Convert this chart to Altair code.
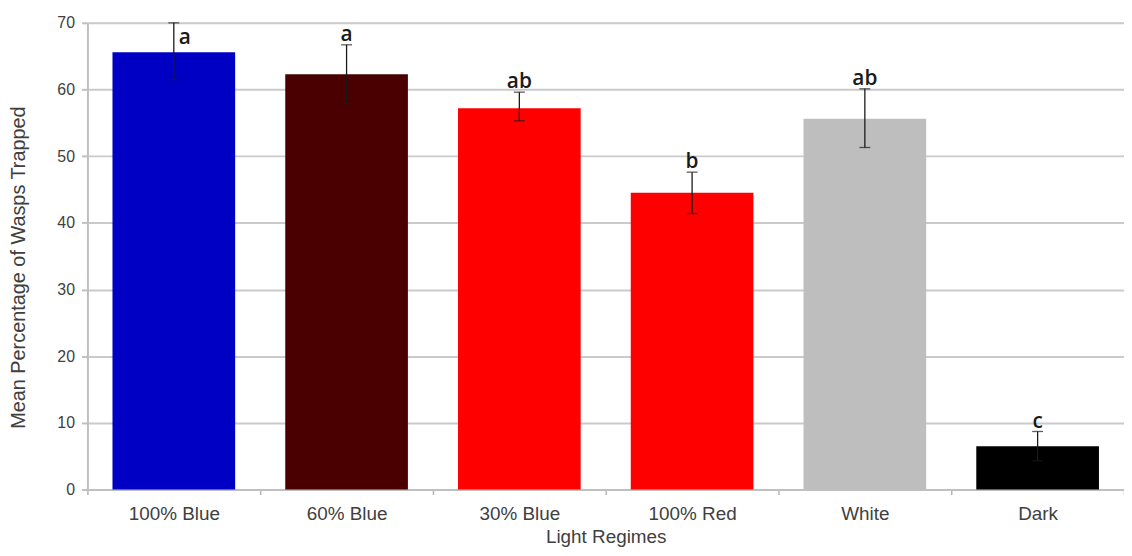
import altair as alt
import pandas as pd

categories = ["100% Blue", "60% Blue", "30% Blue", "100% Red", "White", "Dark"]
means = [65.6, 62.3, 57.2, 44.5, 55.6, 6.5]
upper = [70.0, 66.7, 59.6, 47.6, 60.1, 8.7]
lower = [61.5, 57.9, 55.3, 41.4, 51.3, 4.3]
letters = ["a", "a", "ab", "b", "ab", "c"]
colors = ["#0000c4", "#4a0000", "#ff0000", "#ff0000", "#bebebe", "#000000"]

df = pd.DataFrame({
    "regime": categories,
    "mean": means,
    "upper": upper,
    "lower": lower,
    "letter": letters,
    "color": colors,
})

FONT = "Liberation Sans"

x = alt.X(
    "regime:N",
    sort=categories,
    scale=alt.Scale(paddingInner=0, paddingOuter=0),
    axis=alt.Axis(
        title="Light Regimes",
        labelAngle=0,
        labelFontSize=19,
        labelColor="#404040",
        labelFont=FONT,
        labelPadding=10,
        titleFont=FONT,
        titleFontSize=19,
        titleFontWeight="normal",
        titleColor="#404040",
        titlePadding=4,
        tickBand="extent",
        tickSize=5,
        tickColor="#b4b4b4",
        tickWidth=1.5,
        domainColor="#c0c0c0",
        domainWidth=2,
        grid=False,
    ),
)

y_scale = alt.Scale(domain=[0, 70], nice=False)

bars = alt.Chart(df).mark_bar(width=alt.RelativeBandSize(0.71)).encode(
    x=x,
    y=alt.Y(
        "mean:Q",
        scale=y_scale,
        axis=alt.Axis(
            title="Mean Percentage of Wasps Trapped",
            values=[0, 10, 20, 30, 40, 50, 60, 70],
            labelFontSize=16,
            labelColor="#404040",
            labelFont=FONT,
            labelPadding=7,
            titleFont=FONT,
            titleFontSize=20,
            titleFontWeight="normal",
            titleColor="#404040",
            titlePadding=29,
            titleY=246,
            tickSize=6,
            tickColor="#c0c0c0",
            tickWidth=2,
            domainColor="#c0c0c0",
            domainWidth=2,
            gridColor="#cacaca",
            gridWidth=2,
        ),
    ),
    color=alt.Color("color:N", scale=None),
)

err = alt.Chart(df).mark_rule(color="#1a1a1a", strokeWidth=1.3).encode(
    x=alt.X("regime:N", sort=categories),
    y=alt.Y("lower:Q", scale=y_scale),
    y2="upper:Q",
)

cap_hi = alt.Chart(df).mark_tick(color="#1a1a1a", thickness=1.3, size=11, orient="horizontal").encode(
    x=alt.X("regime:N", sort=categories),
    y=alt.Y("upper:Q", scale=y_scale),
)
cap_lo = alt.Chart(df).mark_tick(color="#1a1a1a", thickness=1.3, size=11, orient="horizontal").encode(
    x=alt.X("regime:N", sort=categories),
    y=alt.Y("lower:Q", scale=y_scale),
)

text_style = dict(font="Open Sans", fontSize=21, fontWeight=600, color="#1a1a1a", align="center")

labels_main = alt.Chart(df).transform_filter(
    alt.datum.regime != categories[0]
).mark_text(baseline="alphabetic", dy=-4, **text_style).encode(
    x=alt.X("regime:N", sort=categories),
    y=alt.Y("upper:Q", scale=y_scale),
    text="letter:N",
)

label_first = alt.Chart(df).transform_filter(
    alt.datum.regime == categories[0]
).mark_text(baseline="alphabetic", dx=11, dy=21, **text_style).encode(
    x=alt.X("regime:N", sort=categories),
    y=alt.Y("upper:Q", scale=y_scale),
    text="letter:N",
)

chart = alt.layer(bars, err, cap_hi, cap_lo, labels_main, label_first).properties(
    width=1044,
    height=470,
    autosize=alt.AutoSizeParams(type="none"),
    padding={"left": 80, "top": 13, "right": 0, "bottom": 57},
).configure_view(stroke=None).configure(background="white")

chart.save("out.html", embed_options={"renderer": "svg", "actions": False})
